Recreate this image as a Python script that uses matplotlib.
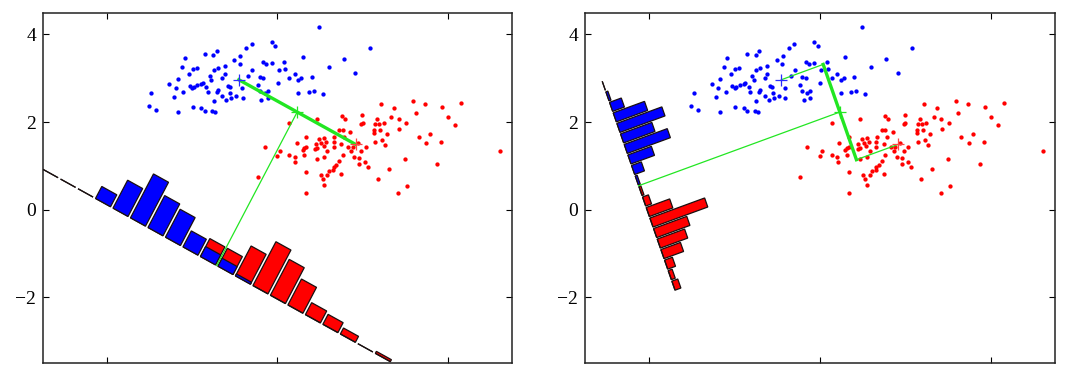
import numpy as np
import matplotlib
matplotlib.use('Agg')
import matplotlib.pyplot as plt
from matplotlib.transforms import Affine2D

# ---- values ----
blue_x = [1.40, 1.27, 0.57, 0.49, 0.29, -0.18, 1.13, 0.99, 1.11, 1.67, 1.73, -0.24, 0.02, 0.11,
          0.76, 0.60, 0.50, 1.41, -0.08, -0.33, 1.31, 1.58, 1.67, 0.76, 0.71, 0.45, 0.25, 0.21,
          0.41, -0.54, -0.06, 0.04, 0.00, 0.12, 0.33, 0.37, -0.39, 0.60, 0.57, 0.84, 0.88, 1.17,
          1.54, 1.58, 1.70, 1.77, -0.96, -0.21, -0.43, 0.71, 0.89, 0.92, 1.03, 0.80, 1.19, 0.50,
          -1.01, 0.02, 0.21, 0.29, -0.85, -0.33, 0.47, 0.54, 1.62, 1.77,
          2.98, 1.87, 1.95, 4.16, 2.59, 3.55, 2.16, 1.87, 3.20, 2.03, 2.18, 3.82, 2.40, 2.28,
          2.48, 2.55, 2.80, 2.01, 2.48, 2.73, 2.85, 3.06]
blue_y = [3.78, 3.70, 3.62, 3.53, 3.55, 3.47, 3.51, 3.42, 3.32, 3.38, 3.32, 3.25, 3.21, 3.24,
          3.28, 3.24, 3.20, 3.19, 3.10, 2.98, 3.05, 3.02, 3.00, 3.09, 3.00, 2.96, 2.90, 2.88,
          3.06, 2.86, 2.83, 2.79, 2.77, 2.85, 2.79, 2.69, 2.77, 2.73, 2.68, 2.82, 2.79, 2.77,
          2.85, 2.71, 2.67, 2.71, 2.66, 2.68, 2.57, 2.60, 2.66, 2.56, 2.60, 2.50, 2.54, 2.49,
          2.37, 2.35, 2.31, 2.26, 2.27, 2.22, 2.26, 2.24, 2.50, 2.54,
          4.16, 3.83, 3.73, 3.70, 3.49, 3.44, 3.38, 3.34, 3.25, 3.19, 3.21, 3.13, 3.09, 3.00,
          2.96, 3.01, 3.03, 2.90, 2.66, 2.68, 2.72, 2.64]

red_x = [3.51, 3.59, 3.98, 3.96, 4.00, 2.93, 2.28, 2.67, 2.98, 3.10, 3.14, 3.33, 3.32, 3.57,
         3.45, 3.53, 3.71, 2.45, 2.67, 2.63, 2.59, 2.90, 2.93, 2.88, 3.02, 3.08, 3.16, 3.32,
         3.49, 3.65, 3.72, 3.76, 3.96, 4.07, 3.88, 1.70, 2.05, 1.99, 2.28, 2.40, 2.41, 2.63,
         3.10, 3.53, 3.79, 3.92, 4.05, 2.93, 3.45, 3.37, 3.32, 3.30, 3.22, 3.16, 3.92, 4.13,
         2.67, 3.01, 3.06, 3.10, 3.49, 1.54, 2.67,
         4.44, 4.74, 5.19, 5.46, 5.87, 6.31, 5.24, 4.66, 4.33, 4.84, 5.01, 4.49, 4.39, 4.29,
         4.41, 4.27, 4.27, 4.85, 4.58, 5.99, 6.16, 4.29, 4.46, 4.53, 5.31, 5.57, 5.49, 5.83,
         7.21, 4.99, 5.75, 4.62, 4.36, 5.05, 4.83]
red_y = [2.15, 2.06, 2.16, 1.95, 1.99, 2.06, 1.99, 1.67, 1.61, 1.63, 1.55, 1.67, 1.54, 1.67,
         1.83, 1.82, 1.78, 1.53, 1.44, 1.40, 1.36, 1.50, 1.40, 1.38, 1.52, 1.45, 1.34, 1.42,
         1.49, 1.42, 1.33, 1.44, 1.34, 1.42, 1.52, 1.42, 1.34, 1.23, 1.25, 1.21, 1.10, 1.25,
         1.21, 1.25, 1.21, 1.17, 1.10, 1.15, 1.12, 1.02, 0.97, 0.91, 0.89, 0.79, 1.04, 0.98,
         0.87, 0.79, 0.69, 0.57, 0.82, 0.74, 0.38,
         2.41, 2.31, 2.47, 2.41, 2.34, 2.44, 2.20, 2.12, 2.07, 2.06, 1.97, 1.99, 1.95, 1.95,
         1.83, 1.82, 1.76, 1.84, 1.72, 2.12, 1.93, 1.55, 1.58, 1.48, 1.67, 1.72, 1.52, 1.54,
         1.34, 1.15, 1.04, 0.92, 0.70, 0.55, 0.39]

# projected histograms, 20 bins along the projection axis (counts from bar lengths)
left_blue_counts = [0, 0, 0, 6, 14, 22, 16, 14, 8, 5, 4, 1, 0, 0, 0, 0, 0, 0, 0, 0]
left_red_counts = [0, 0, 0, 0, 0, 0, 0, 0, 0, 9, 9, 15, 22, 18, 13, 6, 5, 3, 0, 1]
right_blue_counts = [0, 1, 6, 16, 23, 16, 22, 12, 5, 1, 0, 0, 0, 0, 0, 0, 0, 0, 0, 0]
right_red_counts = [0, 0, 0, 0, 0, 0, 0, 0, 0, 0, 1, 3, 12, 28, 17, 14, 10, 4, 2, 3]

xticks = [-2, 2, 6]
yticks = [-2, 0, 2, 4]

BLUE = '#0000ff'
RED = '#ff0000'
GREEN = '#22e622'

blue = np.column_stack([blue_x, blue_y])
red = np.column_stack([red_x, red_y])
m1 = blue.mean(axis=0)
m2 = red.mean(axis=0)
mid = (m1 + m2) / 2


def fisher_dir():
    Sw = np.cov(blue.T) * (len(blue) - 1) + np.cov(red.T) * (len(red) - 1)
    w = np.linalg.solve(Sw, m2 - m1)
    w = w / np.linalg.norm(w)
    if w @ (m2 - m1) < 0:
        w = -w
    return w


def draw_hist(ax, w, offset, bw, hs, counts_b, counts_r):
    """rotated histogram standing on a line parallel to w"""
    n = np.array([-w[1], w[0]])
    foot = mid - offset * n
    theta = np.arctan2(w[1], w[0])
    tr = Affine2D().scale(1, hs).rotate(theta).translate(*foot) + ax.transData
    centers = (np.arange(len(counts_b)) - 9.5) * bw
    for counts, col in ((counts_r, RED), (counts_b, BLUE)):
        ax.bar(centers, counts, width=0.86 * bw, color=col, edgecolor='#1a1010',
               linewidth=0.9, transform=tr, zorder=3)
    return foot


def setup(ax):
    ax.plot(blue[:, 0], blue[:, 1], 'o', color=BLUE, ms=3.1, mec='none', zorder=2)
    ax.plot(red[:, 0], red[:, 1], 'o', color=RED, ms=3.1, mec='none', zorder=2)
    ax.set_xlim(-3.5, 7.5)
    ax.set_ylim(-3.5, 4.5)
    ax.set_xticks(xticks)
    ax.set_yticks(yticks)
    ax.tick_params(direction='in', length=4, width=0.8, top=True, right=True,
                   labelbottom=False, labelsize=14, pad=5)
    for lab in ax.get_yticklabels():
        lab.set_family('Liberation Serif')
    for s in ax.spines.values():
        s.set_linewidth(1.1)
        s.set_color('#222222')


def means(ax):
    ax.plot(*m1, '+', color='#2a2aff', ms=9, mew=0.9, zorder=5)
    ax.plot(*m2, '+', color='#ff4444', ms=9, mew=0.9, zorder=5)
    ax.plot(*mid, '+', color=GREEN, ms=9, mew=0.9, zorder=5)


fig = plt.figure(figsize=(10.67, 3.74), dpi=100)
ax1 = fig.add_axes([0.0403, 0.0294, 0.4395, 0.937])
ax2 = fig.add_axes([0.5483, 0.0294, 0.4405, 0.937])

# left: projection onto the line joining the means
setup(ax1)
w1 = (m2 - m1) / np.linalg.norm(m2 - m1)
foot1 = draw_hist(ax1, w1, 3.98, 0.466, 0.0517, left_blue_counts, left_red_counts)
ax1.plot([m1[0], m2[0]], [m1[1], m2[1]], color=GREEN, lw=2.4, zorder=4)
ax1.plot([mid[0], foot1[0]], [mid[1], foot1[1]], color=GREEN, lw=0.9, zorder=4)
means(ax1)

# right: Fisher linear discriminant
setup(ax2)
w2 = fisher_dir()
foot2 = draw_hist(ax2, w2, 5.0, 0.255, 0.0486, right_blue_counts, right_red_counts)
p1 = mid + ((m1 - mid) @ w2) * w2
p2 = mid + ((m2 - mid) @ w2) * w2
ax2.plot([m1[0], p1[0]], [m1[1], p1[1]], color=GREEN, lw=0.9, zorder=4)
ax2.plot([p1[0], p2[0]], [p1[1], p2[1]], color=GREEN, lw=2.4, zorder=4)
ax2.plot([p2[0], m2[0]], [p2[1], m2[1]], color=GREEN, lw=0.9, zorder=4)
ax2.plot([mid[0], foot2[0]], [mid[1], foot2[1]], color=GREEN, lw=0.9, zorder=4)
means(ax2)

fig.savefig('out.png', dpi=100)
